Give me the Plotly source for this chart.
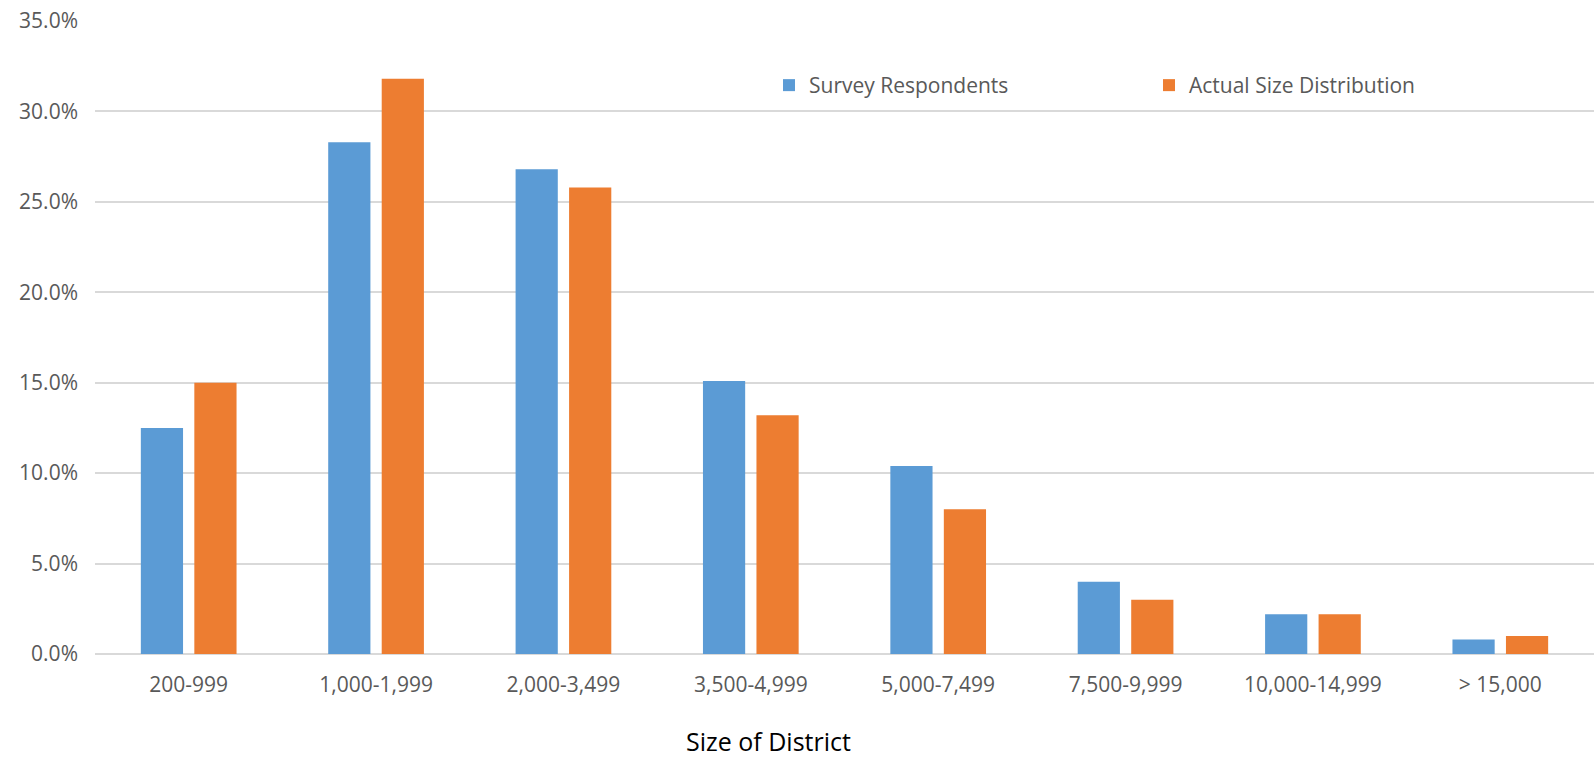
import plotly.graph_objects as go

# District size bands and share of districts in each band (%)
categories = ["200-999", "1,000-1,999", "2,000-3,499", "3,500-4,999",
              "5,000-7,499", "7,500-9,999", "10,000-14,999", "> 15,000"]
survey_respondents = [12.5, 28.3, 26.8, 15.1, 10.4, 4.0, 2.2, 0.8]
actual_distribution = [15.0, 31.8, 25.8, 13.2, 8.0, 3.0, 2.2, 1.0]
y_ticks = [0, 5, 10, 15, 20, 25, 30, 35]
y_tick_labels = ["0.0%", "5.0%", "10.0%", "15.0%", "20.0%", "25.0%", "30.0%", "35.0%"]

FONT = "Open Sans"
LABEL_GREY = "#595959"
GRID = "#d9d9d9"

fig = go.Figure()
fig.add_trace(go.Bar(
    x=categories, y=survey_respondents, name="Survey Respondents",
    marker=dict(color="#5B9BD5", line=dict(width=0)), legend="legend",
))
fig.add_trace(go.Bar(
    x=categories, y=actual_distribution, name="Actual Size Distribution",
    marker=dict(color="#ED7D31", line=dict(width=0)), legend="legend2",
))

W, H = 1596, 760
ml, mr, mt, mb = 95, 2, 20.5, 106.3
pw, ph = W - ml - mr, H - mt - mb

def px_to_paper_x(px):
    return (px - ml) / pw

def px_to_paper_y(py):
    return (H - mb - py) / ph

legend_font = dict(family=FONT, size=21, color=LABEL_GREY)

fig.update_layout(
    width=W, height=H,
    margin=dict(l=ml, r=mr, t=mt, b=mb, pad=0),
    paper_bgcolor="white", plot_bgcolor="white",
    barmode="group", bargap=0.429, bargroupgap=0.211,
    font=dict(family=FONT, color=LABEL_GREY),
    showlegend=True,
    legend=dict(
        x=px_to_paper_x(769), y=px_to_paper_y(85), xanchor="left", yanchor="middle",
        orientation="h", font=legend_font, bgcolor="rgba(0,0,0,0)",
        borderwidth=0, itemclick=False,
    ),
    legend2=dict(
        x=px_to_paper_x(1149), y=px_to_paper_y(85), xanchor="left", yanchor="middle",
        orientation="h", font=legend_font, bgcolor="rgba(0,0,0,0)",
        borderwidth=0, itemclick=False,
    ),
    xaxis=dict(
        showgrid=False, showline=False, zeroline=False, ticks="",
        tickfont=dict(family=FONT, size=21, color=LABEL_GREY),
        ticklabelstandoff=16,
    ),
    yaxis=dict(
        range=[0, 35], tickvals=y_ticks, ticktext=y_tick_labels,
        showgrid=True, gridcolor=GRID, gridwidth=2,
        zeroline=True, zerolinecolor=GRID, zerolinewidth=2,
        showline=False, ticks="",
        tickfont=dict(family=FONT, size=21, color=LABEL_GREY),
        ticklabelstandoff=16,
    ),
    annotations=[dict(
        text="Size of District", xref="paper", yref="paper",
        x=px_to_paper_x(768), y=px_to_paper_y(759),
        xanchor="center", yanchor="bottom", showarrow=False,
        borderpad=0,
        font=dict(family=FONT, size=25, color="#000000"),
    )],
)

fig.write_html("out.html")
